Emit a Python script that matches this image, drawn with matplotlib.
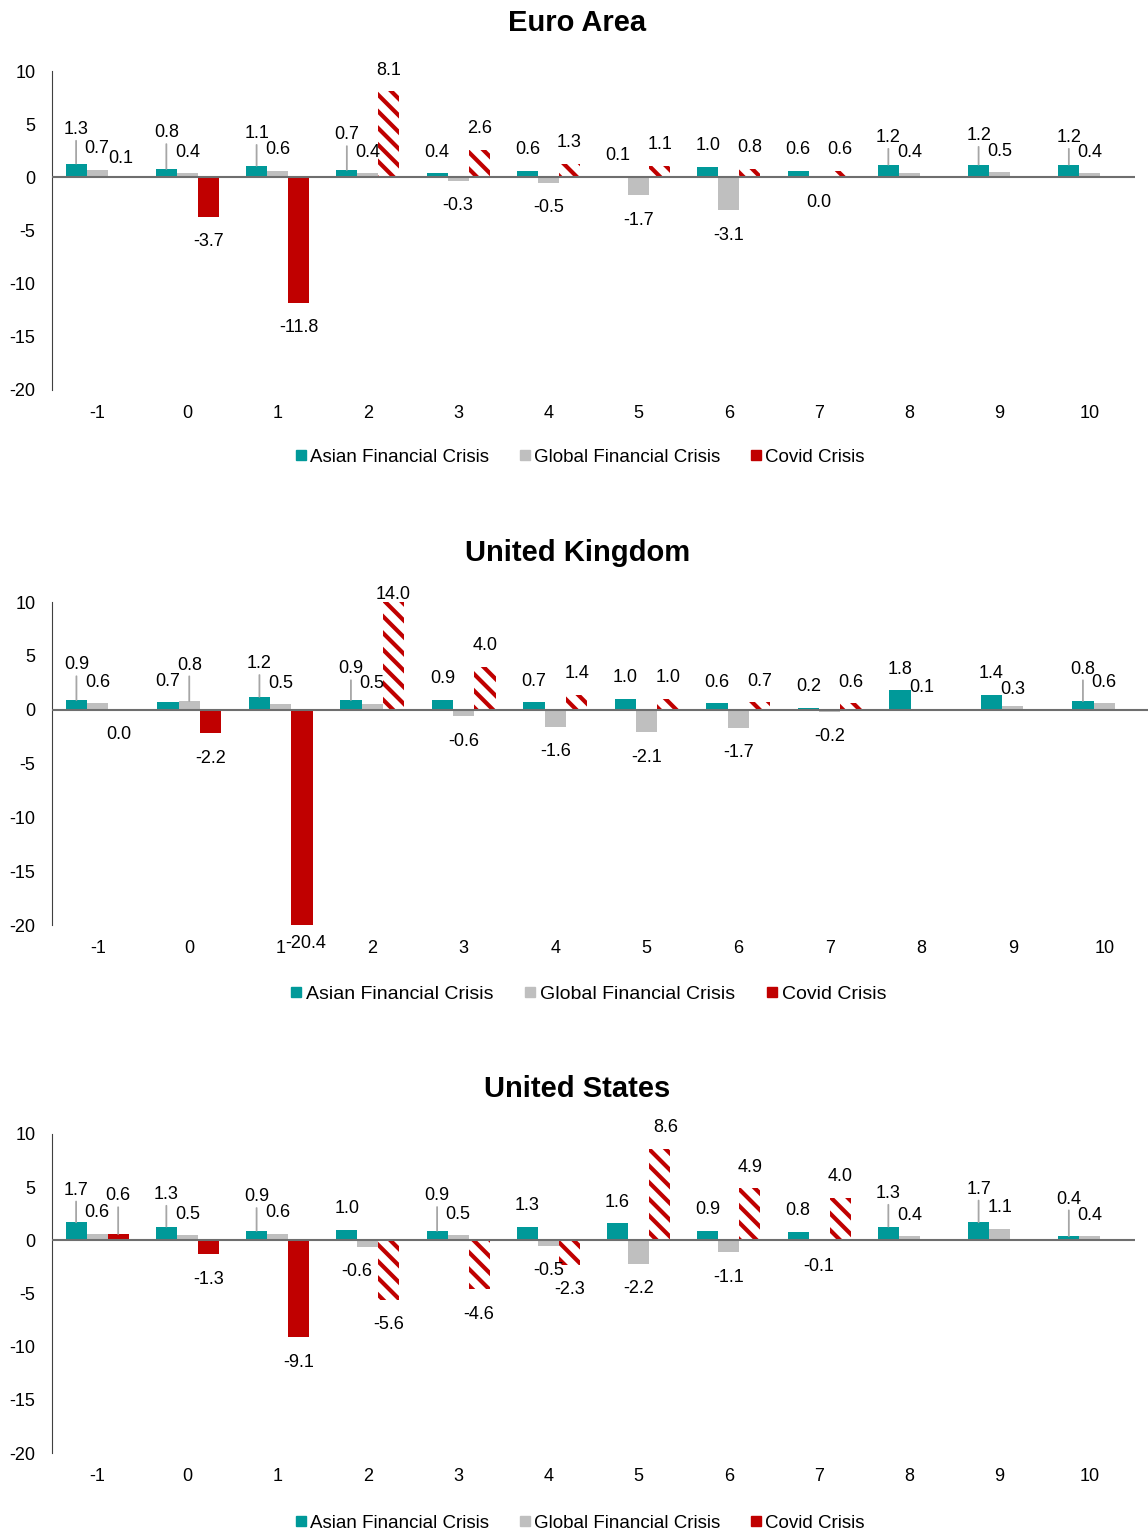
import numpy as np
import matplotlib
matplotlib.use('Agg')
import matplotlib.pyplot as plt
from matplotlib.lines import Line2D

plt.rcParams['font.family'] = ['Liberation Sans', 'DejaVu Sans']
plt.rcParams['axes.unicode_minus'] = False
plt.rcParams['hatch.linewidth'] = 3.0

years = [-1, 0, 1, 2, 3, 4, 5, 6, 7, 8, 9, 10]
series_names = ['Asian Financial Crisis', 'Global Financial Crisis', 'Covid Crisis']

# Euro Area
ea_asian = [1.3, 0.8, 1.1, 0.7, 0.4, 0.6, 0.1, 1.0, 0.6, 1.2, 1.2, 1.2]
ea_global = [0.7, 0.4, 0.6, 0.4, -0.3, -0.5, -1.7, -3.1, 0.0, 0.4, 0.5, 0.4]
ea_covid = [0.1, -3.7, -11.8, 8.1, 2.6, 1.3, 1.1, 0.8, 0.6]

# United Kingdom
uk_asian = [0.9, 0.7, 1.2, 0.9, 0.9, 0.7, 1.0, 0.6, 0.2, 1.8, 1.4, 0.8]
uk_global = [0.6, 0.8, 0.5, 0.5, -0.6, -1.6, -2.1, -1.7, -0.2, 0.1, 0.3, 0.6]
uk_covid = [0.0, -2.2, -20.4, 14.0, 4.0, 1.4, 1.0, 0.7, 0.6]

# United States
us_asian = [1.7, 1.3, 0.9, 1.0, 0.9, 1.3, 1.6, 0.9, 0.8, 1.3, 1.7, 0.4]
us_global = [0.6, 0.5, 0.6, -0.6, 0.5, -0.5, -2.2, -1.1, -0.1, 0.4, 1.1, 0.4]
us_covid = [0.6, -1.3, -9.1, -5.6, -4.6, -2.3, 8.6, 4.9, 4.0]

TEAL = '#009999'
GREY = '#BFBFBF'
RED = '#C00000'
colors = [TEAL, GREY, RED]

# label nudges in pixels (series, year index): (dx, dy up)
ea_nudge = {(0, 0): (0, 13), (0, 1): (0, 15), (0, 2): (0, 11), (0, 3): (0, 14),
            (0, 9): (0, 6), (0, 10): (0, 8), (0, 11): (0, 6), (2, 0): (3, -3)}
uk_nudge = {(0, 0): (0, 14), (1, 1): (0, 15), (0, 2): (0, 12), (0, 3): (0, 10),
            (0, 11): (0, 11), (2, 3): (0, -13), (2, 2): (4, 7), (1, 10): (0, -4)}
us_nudge = {(0, 0): (0, 11), (2, 0): (0, 17), (0, 1): (0, 11), (0, 2): (0, 13),
            (1, 3): (-11, 0), (0, 4): (0, 14), (0, 9): (0, 12), (0, 10): (0, 12),
            (0, 11): (0, 16), (2, 6): (6, 0)}

fig = plt.figure(figsize=(11.48, 15.34), dpi=100)
W, H = 1148, 1534


def panel(left, right, top, bottom, title, title_y, data, nudge, leg_x, leg_y, leg_fs):
    ax = fig.add_axes([left / W, 1 - bottom / H, (right - left) / W, (bottom - top) / H])
    x = np.arange(len(years))
    w = 0.233
    offs = [-w, 0, w]
    ax.bar(x + offs[0], data[0], w, color=TEAL, zorder=2)
    ax.bar(x + offs[1], data[1], w, color=GREY, zorder=2)
    cov = np.array(data[2])
    xc = np.arange(len(cov))
    solid = np.array(years[:len(cov)]) <= 1
    ax.bar(xc[solid] + offs[2], cov[solid], w, color=RED, zorder=2)
    ax.bar(xc[~solid] + offs[2], cov[~solid], w, facecolor='white', edgecolor=RED,
           hatch='\\\\', linewidth=0, zorder=2)

    ax.set_xlim(-0.5, len(years) - 0.5)
    ax.set_ylim(-20, 10)
    ax.axhline(0, color='#6e6e6e', lw=1.5, zorder=3)
    for sp in ['top', 'right', 'bottom']:
        ax.spines[sp].set_visible(False)
    ax.spines['left'].set_color('#404040')
    ax.set_yticks([10, 5, 0, -5, -10, -15, -20])
    ax.set_xticks(x)
    ax.set_xticklabels([str(y) for y in years])
    ax.tick_params(axis='both', length=0, labelsize=13, colors='black')
    ax.tick_params(axis='y', pad=12)
    ax.tick_params(axis='x', pad=11)

    for s, vals in enumerate(data):
        for i, v in enumerate(vals):
            yb = min(max(v, -20), 10)
            dx, dy = nudge.get((s, i), (0, 0))
            base = 21 if v > 0 else -25
            arrow = None
            if v > 0 and dy >= 5:
                arrow = dict(arrowstyle='-', color='#a6a6a6', lw=1.3, shrinkA=0, shrinkB=0)
            ax.annotate(f'{v:.1f}', xy=(i + offs[s], yb), xytext=(dx, base + dy),
                        textcoords='offset pixels', ha='center', va='center',
                        fontsize=13, arrowprops=arrow, annotation_clip=False, zorder=4)

    fig.text(0.503, 1 - title_y / H, title, ha='center', va='center',
             fontsize=21, fontweight='bold')
    handles = [Line2D([], [], marker='s', ls='', markersize=7, color=c) for c in colors]
    fig.legend(handles, series_names, loc='center', ncol=3,
               bbox_to_anchor=(leg_x / W, 1 - leg_y / H), frameon=False,
               fontsize=leg_fs, handlelength=0.6, handletextpad=0.2,
               columnspacing=1.6, borderpad=0)
    return ax


panel(52, 1135, 71, 390, 'Euro Area', 23, [ea_asian, ea_global, ea_covid],
      ea_nudge, 580, 457, 13.5)
panel(52, 1150, 602, 925, 'United Kingdom', 553, [uk_asian, uk_global, uk_covid],
      uk_nudge, 588, 994, 14)
panel(52, 1135, 1134, 1453, 'United States', 1089, [us_asian, us_global, us_covid],
      us_nudge, 580, 1523, 13.5)

fig.savefig('out.png', dpi=100, facecolor='white')
